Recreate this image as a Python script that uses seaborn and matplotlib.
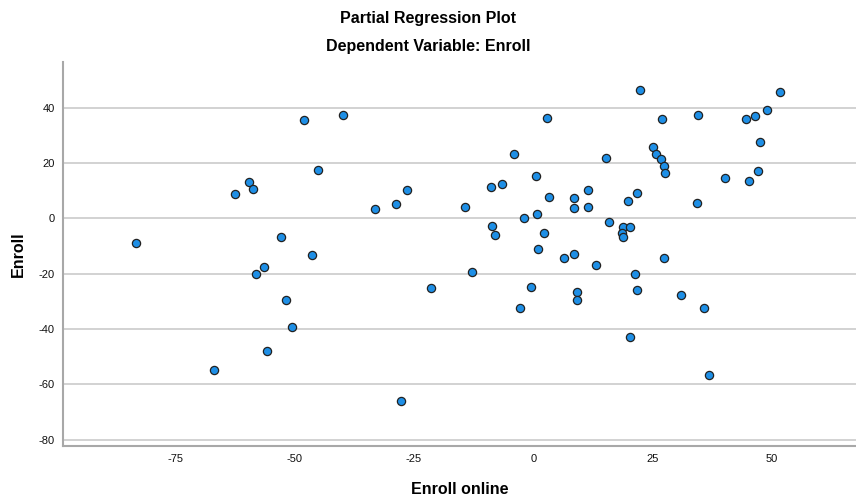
import matplotlib
matplotlib.use("Agg")
import matplotlib.pyplot as plt
import seaborn as sns
import pandas as pd

enroll_online = [
    -48.0, -39.8, -45.0, -59.6, -58.6, -62.4, -33.2, -28.7, -26.5, -83.2, -52.9, -46.3,
    -56.3, -58.1, -51.7, -21.4, -50.5, -55.8, -66.9, -27.8, -12.9,
    22.3, 51.6, 48.9, 46.5, 44.5, 34.5, 26.9, 2.8, 47.4, -4.0, 15.3, 25.1, 25.7, 26.7,
    27.4, 27.6, 47.1, 40.2, 45.1, 0.6, -8.8, -6.5, 11.5, 3.4, 8.6, 21.8, 19.8, 34.4,
    -14.2, 8.6, 11.4, 0.8, -1.9, 15.8, -8.7, -8.0, 2.2, 18.8, 20.2, 18.5, 18.8, 1.0,
    6.5, 8.5, 27.4,
    13.1, 21.4, -0.4, 9.2, 9.1, 21.8, 30.9, -2.7, 35.7, 20.2, 36.9,
]
enroll = [
    35.7, 37.2, 17.6, 13.1, 10.6, 8.7, 3.5, 5.3, 10.1, -9.1, -6.9, -13.1,
    -17.7, -20.2, -29.5, -25.3, -39.3, -48.0, -54.7, -65.9, -19.4,
    46.5, 45.5, 39.3, 37.1, 35.8, 37.2, 36.0, 36.3, 27.5, 23.4, 21.7, 25.8, 23.4, 21.3,
    18.9, 16.4, 17.2, 14.7, 13.5, 15.2, 11.3, 12.5, 10.4, 7.8, 7.3, 9.3, 6.1, 5.7,
    4.2, 3.6, 4.0, 1.4, 0.0, -1.2, -2.9, -6.1, -5.4, -3.0, -3.3, -5.4, -6.7, -11.1,
    -14.2, -12.8, -14.2,
    -16.7, -20.0, -25.0, -26.6, -29.4, -25.9, -27.7, -32.5, -32.5, -42.9, -56.5,
]
x_ticks = [-75, -50, -25, 0, 25, 50]
y_ticks = [-80, -60, -40, -20, 0, 20, 40]

df = pd.DataFrame({"Enroll online": enroll_online, "Enroll": enroll})

sns.set_theme(style="white")
plt.rcParams["font.family"] = ["Liberation Sans", "DejaVu Sans"]
plt.rcParams["axes.unicode_minus"] = False

fig = plt.figure(figsize=(8.56, 5.01), dpi=100)
ax = fig.add_axes([63 / 856, 55 / 501, 1 - 63 / 856, (446 - 62) / 501])

for yv in y_ticks:
    ax.axhline(yv, color="#cfcfcf", lw=1.3, zorder=0)

sns.scatterplot(data=df, x="Enroll online", y="Enroll", ax=ax,
                s=35, color="#1e8fe6", edgecolor="#222222", linewidth=0.9, zorder=3)

ax.set_xlim(-98.5, 67.6)
ax.set_ylim(-82.3, 56.5)
ax.set_xticks(x_ticks)
ax.set_yticks(y_ticks)
ax.tick_params(axis="both", length=0, labelsize=8, colors="#111111", pad=6)
for s in ["top", "right"]:
    ax.spines[s].set_visible(False)
for s in ["left", "bottom"]:
    ax.spines[s].set_color("#a8a8a8")
    ax.spines[s].set_linewidth(1.5)

ax.set_xlabel("Enroll online", fontsize=11.5, fontweight="bold", labelpad=13, color="black")
ax.set_ylabel("Enroll", fontsize=11.5, fontweight="bold", labelpad=9, color="black")

fig.text(0.5, 1 - 19 / 501, "Partial Regression Plot", ha="center", va="center",
         fontsize=11.5, fontweight="bold", color="black")
fig.text(0.5, 1 - 47 / 501, "Dependent Variable: Enroll", ha="center", va="center",
         fontsize=11.5, fontweight="bold", color="black")

fig.savefig("out.png", dpi=100)
